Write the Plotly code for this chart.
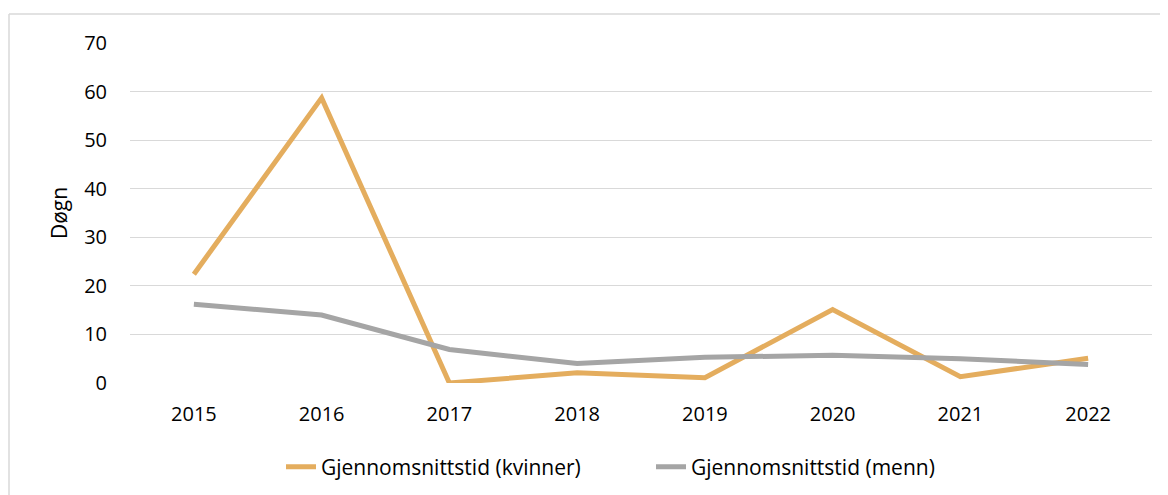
import plotly.graph_objects as go

years = ["2015", "2016", "2017", "2018", "2019", "2020", "2021", "2022"]
kvinner = [22.4, 58.7, 0.0, 2.1, 1.1, 15.1, 1.3, 5.1]
menn = [16.2, 14.0, 6.9, 4.0, 5.3, 5.7, 5.0, 3.8]
y_ticks = [0, 10, 20, 30, 40, 50, 60, 70]

# page body has an 8px margin, so the figure is drawn 8px in from the window edge
OFF = 8
W, H = 1168 - OFF, 495 - OFF
L, R, T, B = 130 - OFF, 16, 43 - OFF, H - (383 - OFF)
pw, ph = W - L - R, H - T - B

def px_x(x):
    return (x - OFF - L) / pw

def px_y(y):
    return (H - B - (y - OFF)) / ph

fig = go.Figure()
fig.add_trace(go.Scatter(x=years, y=kvinner, mode="lines", name="Gjennomsnittstid (kvinner)",
                         line=dict(color="#E4AD5E", width=5)))
fig.add_trace(go.Scatter(x=years, y=menn, mode="lines", name="Gjennomsnittstid (menn)",
                         line=dict(color="#A5A5A5", width=5)))

font = "Open Sans, Noto Sans, sans-serif"
fig.update_layout(
    width=W, height=H,
    margin=dict(l=L, r=R, t=T, b=B, autoexpand=False),
    paper_bgcolor="white", plot_bgcolor="white",
    font=dict(family=font, size=20, color="#000000"),
    showlegend=True,
    legend=dict(orientation="h", x=px_x(281), xanchor="left", y=px_y(467), yanchor="middle",
                font=dict(size=21), entrywidth=325, entrywidthmode="pixels",
                tracegroupgap=0, bgcolor="rgba(0,0,0,0)"),
    xaxis=dict(type="category", range=[-0.5, 7.5], showgrid=False, showline=False, zeroline=False,
               ticks="outside", ticklen=0, ticklabelstandoff=13, tickfont=dict(size=20),
               automargin=False),
    yaxis=dict(range=[0, 70], tickvals=y_ticks, showgrid=True, gridcolor="#D9D9D9", gridwidth=1.3,
               zeroline=False, showline=False, ticks="", ticklabelstandoff=22,
               tickfont=dict(size=20), automargin=False,
               title=dict(text="Døgn", font=dict(size=21), standoff=10)),
)
# chart area border (left and top edges visible)
fig.add_shape(type="line", xref="paper", yref="paper", x0=px_x(9), x1=px_x(9), y0=px_y(14), y1=px_y(500),
              line=dict(color="#D9D9D9", width=1.5))
fig.add_shape(type="line", xref="paper", yref="paper", x0=px_x(9), x1=px_x(1175), y0=px_y(14), y1=px_y(14),
              line=dict(color="#D9D9D9", width=1.5))

fig.write_html("out.html")
